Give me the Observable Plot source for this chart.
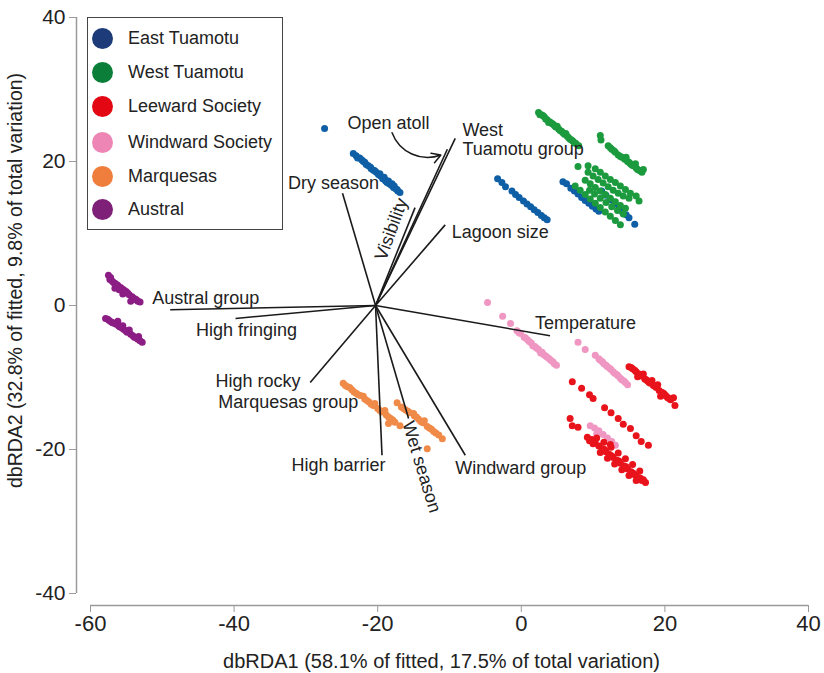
<!DOCTYPE html>
<html>
<head>
<meta charset="utf-8">
<script src="https://cdn.jsdelivr.net/npm/d3@7"></script>
<script src="https://cdn.jsdelivr.net/npm/@observablehq/plot@0.6"></script>
<style>
  body { margin: 0; background: #fff; }
  #wrap { position: relative; width: 824px; height: 673px; }
  #legend { position: absolute; left: 87px; top: 17px; width: 196px; height: 213px; border: 1px solid #444; background: #fff; box-sizing: border-box; font-family: "Liberation Sans", Arial, sans-serif; font-size: 18px; color: #222; }
  .item { position: absolute; left: 0; height: 24px; display: flex; align-items: center; }
  .dot { width: 21px; height: 21px; border-radius: 50%; margin-left: 4px; margin-right: 15px; }
</style>
</head>
<body>
<div id="wrap"><div id="chart"></div><div id="legend"></div></div>
<script>
// ---- data ----
const groups = ["East Tuamotu", "West Tuamotu", "Leeward Society", "Windward Society", "Marquesas", "Austral"];
const legendColors = ["#1c3b78", "#0b7f3a", "#e30613", "#ee86b5", "#ef7d3c", "#7e1f78"];
const pointColors = ["#0f5fa6", "#1b9a3e", "#e8131b", "#ef97c2", "#f08a48", "#8b1d84"];

const eastTuamotu = [
  [-27.4,24.6],
  [-23.4,21.1],[-23.0,20.8],[-22.5,20.5],[-22.0,20.0],[-21.6,19.6],[-21.3,19.4],[-20.9,19.0],[-20.6,18.8],[-20.2,18.5],[-19.9,18.2],[-19.6,18.0],[-19.3,17.6],[-19.0,17.5],[-18.7,17.1],[-18.4,16.9],[-18.1,16.7],[-17.8,16.4],[-17.5,16.2],[-17.2,15.9],[-16.9,15.7],[-19.7,18.3],[-19.1,17.8],[-18.5,17.3],[-18.0,16.9],
  [-22.8,20.5],[-22.2,20.2],[-21.8,19.9],[-21.0,19.2],[-20.4,18.7],[-18.9,17.3],[-17.7,16.6],[-17.3,16.1],
  [-3.3,17.6],[-2.7,17.1],[-2.2,16.5],[-1.3,15.9],[-0.8,15.4],[-0.3,15.0],[0.3,14.5],[0.8,14.1],[1.3,13.7],[1.8,13.3],[2.3,12.9],[2.8,12.5],[3.2,12.2],[3.6,11.9],
  [5.8,17.2],[6.3,16.9],[6.9,16.3],[7.4,15.9],[7.9,15.5],[8.4,15.0],[8.9,14.6],[9.4,14.2],[9.9,13.8],[10.4,13.4],[10.8,13.1],
  [11.2,15.9],[11.8,15.3],[12.4,14.7],[13.0,14.1],[13.6,13.5],[14.1,13.0],[14.6,12.6],[15.0,12.2],[15.8,11.3]
];
const westTuamotu = [
  [2.4,26.8],[2.8,26.5],[3.2,26.2],[3.6,25.8],[4.0,25.5],[4.4,25.2],[4.8,24.8],[5.2,24.5],[5.6,24.2],[6.0,23.8],[6.4,23.5],[6.8,23.1],[7.2,22.8],[7.6,22.5],[8.0,22.2],[3.8,25.4],[5.0,24.9],[6.2,23.9],
  [2.6,26.5],[3.0,26.4],[3.4,25.9],[4.2,25.3],[4.6,25.0],[5.4,24.3],[5.8,24.0],[6.6,23.3],[7.0,23.0],[7.4,22.6],
  [11.0,23.6],[11.1,23.0],
  [12.1,22.2],[12.6,21.7],[13.1,21.3],[13.5,20.9],[14.0,20.6],[14.4,20.3],[14.8,20.0],[15.2,19.7],[15.6,19.4],[16.0,19.1],[16.4,18.8],[16.8,18.5],[17.0,18.9],[14.6,20.6],[15.9,19.7],
  [12.4,21.9],[12.9,21.5],[13.8,20.7],[15.0,19.9],[15.4,19.5],[16.2,18.9],[16.6,18.7],
  [7.9,19.3],[9.3,19.4],
  [9.3,18.5],[10.0,18.0],[10.7,17.5],[11.4,17.0],[12.1,16.5],[12.8,16.0],[13.5,15.6],[14.2,15.2],[15.0,14.9],
  [10.3,19.0],[11.0,18.5],[11.7,18.0],[12.4,17.5],[13.1,17.1],[13.8,16.6],[14.5,16.1],[15.2,15.6],[16.0,15.2],[16.4,14.5],
  [8.9,17.4],[9.6,16.9],[10.3,16.4],[11.0,15.9],[11.7,15.4],[12.4,14.9],[13.1,14.4],[13.8,13.9],[14.5,13.5],
  [7.5,16.6],[8.2,16.0],[8.9,15.4],[9.6,14.8],[10.3,14.2],[11.0,13.6],[11.7,13.0],[12.4,12.4],[13.1,11.8],[13.8,11.2],
  [9.5,16.0],[10.2,15.5],[11.0,14.9],[11.8,14.3],[12.6,13.7],[13.4,13.2],[14.2,12.7]
];
const leewardSociety = [
  [15.0,-8.5],[15.5,-8.8],[16.0,-9.2],[16.4,-9.5],[16.8,-9.8],[17.2,-10.2],[17.6,-10.5],[18.0,-10.8],[18.4,-11.1],[18.8,-11.4],[19.2,-11.8],[19.6,-12.1],[20.0,-12.4],[20.4,-12.8],[20.8,-13.1],[21.2,-12.8],[21.4,-13.9],[17.0,-9.5],[18.2,-10.4],[19.0,-11.0],[16.2,-9.9],[19.4,-12.6],
  [15.3,-8.6],[15.8,-9.0],[16.6,-9.6],[17.4,-10.3],[17.8,-10.7],[18.6,-11.2],[19.8,-12.2],[20.2,-12.6],[20.6,-12.9],
  [7.1,-10.6],[8.4,-11.5],[9.5,-12.4],[10.0,-12.9],[11.6,-14.2],[12.5,-14.9],[13.5,-15.7],[14.2,-16.5],[15.2,-17.1],[16.0,-18.1],[16.7,-18.9],[17.7,-19.4],
  [6.8,-15.7],[7.1,-16.7],[7.9,-16.9],
  [9.2,-18.3],[9.8,-18.6],[10.3,-19.1],[10.8,-19.5],[11.3,-19.9],[11.8,-20.3],[12.3,-20.7],[12.8,-21.1],[13.3,-21.5],[13.8,-21.9],[14.3,-22.3],[14.8,-22.7],[15.3,-23.1],[15.8,-23.5],[16.3,-23.9],[16.8,-24.3],[17.3,-24.6],
  [10.5,-18.4],[11.5,-19.0],[12.5,-19.7],[13.5,-20.5],[14.5,-21.3],[15.5,-22.1],[16.5,-23.0],[11.0,-20.4],[12.0,-21.2],[13.0,-22.0],[14.0,-22.8],[15.0,-23.6],[16.0,-24.3],[12.4,-19.3],
  [9.5,-18.8],[10.0,-19.2],[11.6,-20.0],[12.6,-20.9],[13.6,-21.6],[14.6,-22.4],[15.6,-23.3],[16.6,-24.0],[17.0,-24.2]
];
const windwardSociety = [
  [-4.7,0.4],[-2.6,-1.5],[-1.5,-2.5],
  [-0.6,-3.5],[-0.1,-3.9],[0.4,-4.4],[0.9,-4.8],[1.4,-5.2],[1.9,-5.7],[2.4,-6.1],[2.9,-6.5],[3.4,-7.0],[3.9,-7.4],[4.4,-7.8],[4.9,-8.3],[1.6,-5.6],[2.7,-6.6],
  [-0.3,-3.8],[0.6,-4.5],[1.1,-5.0],[2.1,-5.9],[3.1,-6.8],[3.6,-7.2],[4.1,-7.6],[4.6,-8.1],
  [7.9,-5.1],[8.9,-6.1],[10.3,-6.9],[10.8,-7.4],[11.3,-7.8],[11.8,-8.3],[12.3,-8.7],[12.8,-9.2],[13.3,-9.6],[13.8,-10.1],[14.3,-10.5],[14.8,-11.0],
  [11.0,-7.6],[11.5,-8.1],[12.0,-8.5],[12.5,-8.9],[13.0,-9.4],[13.5,-9.8],[14.0,-10.3],[14.5,-10.7],
  [9.6,-16.7],[10.2,-17.0],[10.8,-17.4],[11.4,-17.9],[12.0,-18.4],[12.6,-18.9],[13.1,-19.4],[10.5,-17.8]
];
const marquesas = [
  [-24.8,-10.8],[-24.2,-11.3],[-23.6,-11.7],[-23.0,-12.2],[-22.4,-12.5],[-21.8,-13.0],[-21.2,-13.4],[-20.6,-13.9],[-20.0,-14.3],[-19.4,-14.8],[-18.8,-15.2],[-18.2,-15.7],[-17.6,-16.2],[-16.9,-16.7],[-22.0,-12.6],[-20.4,-13.6],[-19.0,-14.6],
  [-24.5,-11.1],[-23.9,-11.4],[-23.3,-12.0],[-22.7,-12.4],[-21.5,-13.2],[-20.9,-13.7],[-19.7,-14.6],[-18.5,-15.5],[-17.9,-15.9],
  [-18.5,-16.4],
  [-17.3,-13.5],[-16.7,-14.1],[-16.1,-14.5],[-15.5,-14.9],[-14.9,-15.3],[-14.3,-15.8],[-13.7,-16.3],[-13.1,-16.8],[-12.5,-17.2],[-11.9,-17.7],[-11.0,-18.5],[-15.0,-15.0],[-13.5,-16.0],
  [-16.4,-14.3],[-15.8,-14.7],[-14.6,-15.5],[-14.0,-16.1],[-12.8,-17.0],[-12.2,-17.5],[-11.5,-18.0],
  [-13.1,-19.9]
];
const austral = [
  [-57.5,4.2],[-57.3,3.6],[-57.0,3.4],[-56.6,3.1],[-56.2,2.8],[-55.8,2.5],[-55.4,2.2],[-55.0,1.9],[-54.6,1.5],[-54.2,1.2],[-53.8,0.9],[-53.4,0.6],[-53.1,0.5],[-54.4,0.6],[-55.5,1.6],[-56.0,2.2],[-56.6,2.4],
  [-57.2,3.9],[-56.8,3.2],[-56.4,2.9],[-55.6,2.3],[-55.2,2.0],[-54.8,1.7],[-54.0,1.0],[-53.6,0.8],
  [-57.9,-1.8],[-57.4,-2.1],[-56.9,-2.4],[-56.4,-2.6],[-55.9,-3.0],[-55.4,-3.3],[-54.9,-3.7],[-54.4,-4.0],[-53.9,-4.4],[-53.4,-4.7],[-52.8,-5.1],[-56.2,-2.2],[-55.5,-2.8],[-54.6,-3.4],[-53.3,-4.3],
  [-57.6,-1.9],[-57.1,-2.3],[-56.6,-2.5],[-56.1,-2.8],[-55.6,-3.1],[-55.1,-3.5],[-54.1,-4.2],[-53.6,-4.5],[-53.1,-4.9]
];

// biplot vectors (origin and endpoints)
const vectorOrigin = [-20.3, 0];
const vectorNames = ["West Tuamotu group", "Open atoll", "Visibility", "Lagoon size", "Dry season", "Austral group", "High fringing", "High rocky", "High barrier", "Wet season", "Windward group", "Temperature"];
const vectorX = [-9.2, -10.3, -14.8, -10.6, -24.9, -48.9, -39.8, -29.4, -19.4, -15.7, -7.8, 4.0];
const vectorY = [23.2, 21.7, 13.6, 11.2, 15.6, -0.6, -1.8, -10.7, -20.8, -15.7, -20.8, -4.2];

// vector labels
const labelText = ["Open atoll", "West\nTuamotu group", "Dry season", "Visibility", "Lagoon size", "Austral group", "High fringing", "Temperature", "High rocky", "Marquesas group", "High barrier", "Wet season", "Windward group"];
const labelX = [-24.2, -8.2, -32.5, -18.1, -9.7, -51.4, -45.3, 1.9, -42.6, -42.2, -32.0, -13.9, -9.2];
const labelY = [25.4, 23.1, 17.1, 10.6, 10.3, 1.1, -3.3, -2.4, -10.4, -13.3, -22.1, -22.4, -22.5];
const labelAnchor = ["start", "start", "start", "middle", "start", "start", "start", "start", "start", "start", "start", "middle", "start"];
const labelRotate = [0, 0, 0, -70, 0, 0, 0, 0, 0, 0, 0, 73, 0];

const arrowFrom = [-18.0, 24.0];
const arrowTo = [-11.2, 20.9];

const xTicks = [-60, -40, -20, 0, 20, 40];
const yTicks = [-40, -20, 0, 20, 40];
const xTitle = "dbRDA1 (58.1% of fitted, 17.5% of total variation)";
const yTitle = "dbRDA2 (32.8% of fitted, 9.8% of total variation)";

// ---- build tables ----
const series = [eastTuamotu, westTuamotu, windwardSociety, leewardSociety, marquesas, austral];
const seriesGroup = [0, 1, 3, 2, 4, 5];
const points = [];
series.forEach((arr, i) => arr.forEach(([x, y]) => points.push({x, y, g: groups[seriesGroup[i]]})));
const vectors = vectorNames.map((n, i) => ({name: n, x1: vectorOrigin[0], y1: vectorOrigin[1], x2: vectorX[i], y2: vectorY[i]}));
const labels = labelText.map((t, i) => ({text: t, x: labelX[i], y: labelY[i], anchor: labelAnchor[i], rotate: labelRotate[i]}));

const sans = "'Liberation Sans', Arial, sans-serif";

const plot = Plot.plot({
  width: 824,
  height: 673,
  marginLeft: 90,
  marginRight: 16,
  marginTop: 17,
  marginBottom: 80,
  style: {fontFamily: sans, background: "#fff", overflow: "visible"},
  x: {domain: [-60, 40]},
  y: {domain: [-40, 40]},
  color: {domain: groups, range: pointColors},
  marks: [
    Plot.ruleY([-40], {dy: 12, stroke: "#9a9a9a", strokeWidth: 1.5}),
    Plot.ruleX([-60], {dx: -14, stroke: "#9a9a9a", strokeWidth: 1.5}),
    Plot.axisX(xTicks, {dy: 12, tickSize: 7, tickPadding: 3, stroke: "#9a9a9a", label: null, tickFormat: d => String(d), fontSize: 22, fill: "#222"}),
    Plot.axisY(yTicks, {dx: -14, tickSize: 7, tickPadding: 4, stroke: "#9a9a9a", label: null, tickFormat: d => String(d), fontSize: 21, fill: "#222"}),
    Plot.text([xTitle], {frameAnchor: "bottom", lineAnchor: "middle", textAnchor: "middle", dy: 68, dx: -8, fontSize: 20, fill: "#222"}),
    Plot.text([yTitle], {frameAnchor: "left", textAnchor: "middle", lineAnchor: "middle", rotate: -90, dx: -75, dy: -25, fontSize: 19.5, fill: "#222"}),
    Plot.dot(points, {x: "x", y: "y", fill: "g", r: 3.5, stroke: "none"}),
    Plot.link(vectors, {x1: "x1", y1: "y1", x2: "x2", y2: "y2", stroke: "#1a1a1a", strokeWidth: 1.6}),
    Plot.arrow([{x1: arrowFrom[0], y1: arrowFrom[1], x2: arrowTo[0], y2: arrowTo[1]}], {x1: "x1", y1: "y1", x2: "x2", y2: "y2", bend: -45, headLength: 10, stroke: "#1a1a1a", strokeWidth: 1.5}),
    Plot.text(labels.filter(d => d.anchor === "start"), {x: "x", y: "y", text: "text", textAnchor: "start", lineAnchor: "middle", fontSize: 18, fill: "#222", lineHeight: 1.1}),
    Plot.text(labels.filter(d => d.anchor === "middle"), {x: "x", y: "y", text: "text", textAnchor: "middle", rotate: "rotate", fontSize: 18, fill: "#222"})
  ]
});
document.getElementById("chart").appendChild(plot);

// legend overlay
const leg = document.getElementById("legend");
const legendY = [20, 54, 88, 124, 158, 191];
groups.forEach((g, i) => {
  const d = document.createElement("div");
  d.className = "item";
  d.style.top = (legendY[i] - 12) + "px";
  d.innerHTML = `<span class="dot" style="background:${legendColors[i]}"></span><span>${g}</span>`;
  leg.appendChild(d);
});
</script>
</body>
</html>
